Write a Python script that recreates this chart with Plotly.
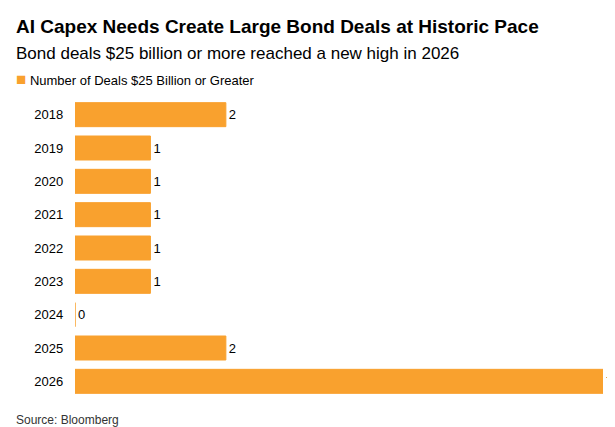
import plotly.graph_objects as go

years = ["2018", "2019", "2020", "2021", "2022", "2023", "2024", "2025", "2026"]
deals = [2, 1, 1, 1, 1, 1, 0, 2, 7]

orange = "#F9A12E"
font = "Liberation Sans, Arial, sans-serif"
W, H = 615, 427
L, R, T, B = 67, 20, 90, 37

fig = go.Figure()
fig.add_trace(go.Bar(
    x=deals, y=years, orientation="h",
    marker=dict(color=orange, line=dict(color=orange, width=1)),
    width=0.72,
    text=deals, textposition="outside", cliponaxis=False,
    textfont=dict(size=13, color="#000000", family=font),
    showlegend=False,
))


def px_to_paper(px, py):
    return (px - L) / (W - L - R), 1 - (py - T) / (H - T - B)


def note(text, px, py, size, color="#000000"):
    x, y = px_to_paper(px, py)
    return dict(text=text, x=x, y=y, xref="paper", yref="paper", yanchor="middle",
                xanchor="left", showarrow=False, font=dict(size=size, color=color))


fig.update_layout(
    width=W, height=H,
    margin=dict(l=L, r=R, t=T, b=B, autoexpand=False),
    plot_bgcolor="white", paper_bgcolor="white",
    font=dict(family=font, color="#000000"),
    xaxis=dict(range=[0, 7], visible=False, automargin=False),
    yaxis=dict(autorange="reversed", showgrid=False, ticks="", ticksuffix="   ",
               automargin=False, tickfont=dict(size=13, color="#000000")),
    annotations=[
        note("<b>AI Capex Needs Create Large Bond Deals at Historic Pace</b>", 6, 18, 19),
        note("Bond deals $25 billion or more reached a new high in 2026", 6, 45, 17),
        note("<span style='color:%s;font-size:17px'>■</span> Number of Deals $25 Billion or Greater" % orange,
             6, 71, 13),
        note("Source: Bloomberg", 6, 412, 12, "#333333"),
    ],
)

fig.write_html("out.html")
